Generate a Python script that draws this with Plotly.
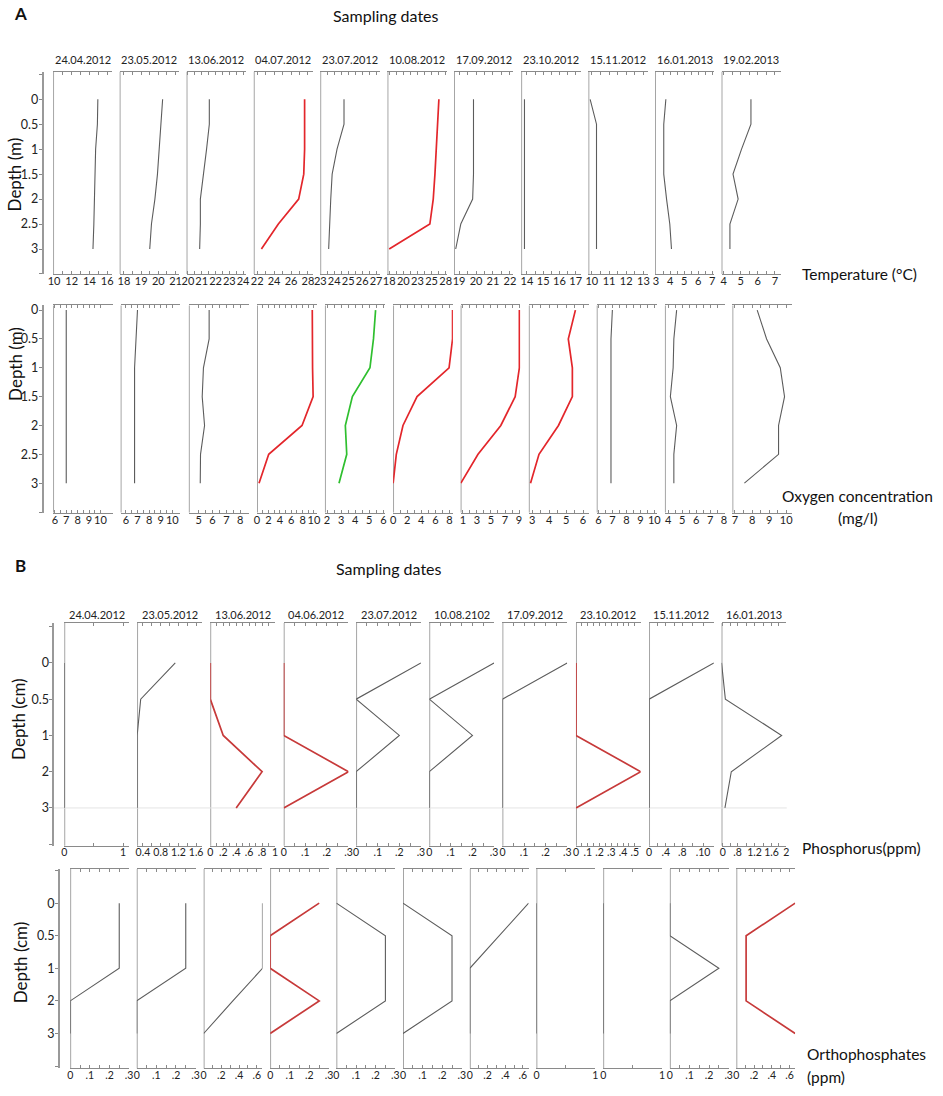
import plotly.graph_objects as go

# ---------------- data ----------------
dates_a = ['24.04.2012', '23.05.2012', '13.06.2012', '04.07.2012', '23.07.2012', '10.08.2012',
           '17.09.2012', '23.10.2012', '15.11.2012', '16.01.2013', '19.02.2013']
dates_b = ['24.04.2012', '23.05.2012', '13.06.2012', '04.06.2012', '23.07.2012', '10.08.2102',
           '17.09.2012', '23.10.2012', '15.11.2012', '16.01.2013']

depth_m = [0, 0.5, 1, 1.5, 2, 2.5, 3]
depth_cm = ['0', '0.5', '1', '2', '3']  # sediment layers, plotted evenly spaced

# water temperature (deg C) per sampling date, at depth_m
temperature = [
    [14.95, 14.9, 14.7, 14.65, 14.6, 14.5, 14.4],
    [20.25, 20.15, 20.05, 19.95, 19.8, 19.6, 19.5],
    [21.55, 21.55, 21.35, 21.1, 20.9, 20.9, 20.85],
    [27.6, 27.6, 27.6, 27.5, 26.9, 24.5, 22.5],
    [24.7, 24.7, 24.2, 23.85, 23.75, 23.7, 23.6],
    [26.8, 26.6, 26.4, 26.1, 25.8, 25.2, 18.0],
    [19.85, 19.85, 19.85, 19.85, 19.8, 19.1, 18.8],
    [13.85, 13.85, 13.85, 13.85, 13.85, 13.85, 13.85],
    [9.9, 10.27, 10.27, 10.27, 10.27, 10.27, 10.27],
    [3.7, 3.55, 3.55, 3.55, 3.75, 3.98, 4.1],
    [5.6, 5.6, 5.05, 4.55, 4.85, 4.37, 4.37],
]
temp_range = [[9.9, 16.6], [17.75, 21.2], [19.9, 24.2], [21.6, 28.6], [23.0, 27.25], [17.7, 28.2],
              [18.7, 22.2], [13.65, 17.3], [9.8, 13.25], [2.93, 7.15], [3.88, 7.35]]
temp_tickvals = [[10, 12, 14, 16], [18, 19, 20, 21], [20, 21, 22, 23, 24], [22, 24, 26, 28],
                 [23, 24, 25, 26, 27], [18, 20.5, 23, 25.5, 28], [19, 20, 21, 22], [14, 15, 16, 17],
                 [10, 11, 12, 13], [3, 4, 5, 6, 7], [4, 5, 6, 7]]
temp_ticktext = [['10', '12', '14', '16'], ['18', '19', '20', '21'], ['20', '21', '22', '23', '24'],
                 ['22', '24', '26', '28'], ['23', '24', '25', '26', '27'], ['18', '20', '23', '25', '28'],
                 ['19', '20', '21', '22'], ['14', '15', '16', '17'], ['10', '11', '12', '13'],
                 ['3', '4', '5', '6', '7'], ['4', '5', '6', '7']]

# dissolved oxygen (mg/l)
oxygen = [
    [7.0, 7.0, 7.0, 7.0, 7.0, 7.0, 7.0],
    [7.0, 6.9, 6.75, 6.75, 6.75, 6.75, 6.75],
    [5.76, 5.76, 5.35, 5.26, 5.43, 5.14, 5.12],
    [9.7, 9.7, 9.75, 9.85, 7.9, 2.05, 0.35],
    [5.45, 5.3, 5.05, 3.8, 3.3, 3.4, 2.85],
    [8.45, 8.45, 7.95, 3.4, 1.4, 0.45, 0.0],
    [9.05, 9.05, 9.05, 8.45, 6.4, 3.15, 0.7],
    [5.55, 5.13, 5.37, 5.37, 4.55, 3.4, 2.9],
    [7.0, 6.9, 6.9, 6.9, 6.9, 6.9, 6.9],
    [4.6, 4.4, 4.35, 4.15, 4.6, 4.4, 4.4],
    [8.3, 8.85, 9.65, 9.9, 9.55, 9.55, 7.55],
]
oxy_range = [[5.85, 11.1], [5.55, 10.7], [4.3, 8.6], [0, 10.5], [1.85, 6.1], [0, 8.5],
             [0.67, 9.2], [2.8, 6.33], [5.88, 10.16], [3.76, 8.05], [6.85, 10.35]]
oxy_tickvals = [[6, 7, 8, 9, 10], [6, 7, 8, 9, 10], [5, 6, 7, 8], [0, 2, 4, 6, 8, 10], [2, 3, 4, 5, 6],
                [0, 2, 4, 6, 8], [1, 3, 5, 7, 9], [3, 4, 5, 6], [6, 7, 8, 9, 10], [4, 5, 6, 7, 8],
                [7, 8, 9, 10]]
oxy_ticktext = [[str(v) for v in tv] for tv in oxy_tickvals]

# total phosphorus in sediment (ppm), at depth_cm
phosphorus = [
    [0, 0, 0, 0, 0],
    [1.13, 0.35, 0.27, 0.27, 0.27],
    [0, 0, 0.2, 0.8, 0.4],
    [0, 0, 0, 0.3, 0],
    [0.3, 0, 0.2, 0, 0],
    [0.3, 0, 0.2, 0, 0],
    [0.3, 0, 0, 0, 0],
    [0, 0, 0, 0.55, 0],
    [1.56, 0, 0, 0, 0],
    [0.42, 0.51, 1.84, 0.65, 0.5],
]
phos_range = [[0, 1.1], [0.27, 1.73], [0, 1.0], [0, 0.3], [0, 0.3], [0, 0.3], [0, 0.3],
              [0, 0.55], [0, 1.56], [0.42, 1.95]]
phos_tickvals = [[0, 1], [0.4, 0.8, 1.2, 1.6], [0, 0.2, 0.4, 0.6, 0.8, 1.0], [0, 0.1, 0.2, 0.3],
                 [0, 0.1, 0.2, 0.3], [0, 0.1, 0.2, 0.3], [0, 0.1, 0.2, 0.3],
                 [0, 0.1, 0.2, 0.3, 0.4, 0.5], [0, 0.4, 0.8, 1.3], [0.45, 0.8, 1.2, 1.6, 1.95]]
phos_ticktext = [['0', '1'], ['0.4', '0.8', '1.2', '1.6'], ['0', '.2', '.4', '.6', '.8', '1'],
                 ['0', '.1', '.2', '.3'], ['0', '.1', '.2', '.3'], ['0', '.1', '.2', '.3'],
                 ['0', '.1', '.2', '.3'], ['0', '.1', '.2', '.3', '.4', '.5'],
                 ['0', '.4', '.8', '.10'], ['0', '.8', '1.2', '1.6', '2']]

# orthophosphates (ppm)
orthophosphate = [
    [0.25, 0.25, 0.25, 0, 0],
    [0.25, 0.25, 0.25, 0, 0],
    [0.665, 0.665, 0.665, 0.33, 0],
    [0.25, 0, 0, 0.25, 0],
    [0, 0.25, 0.25, 0.25, 0],
    [0, 0.25, 0.25, 0.25, 0],
    [0.665, 0.33, 0, 0, 0],
    [0, 0, 0, 0, 0],
    [0, 0, 0, 0, 0],
    [0, 0, 0.25, 0, 0],
    [0.665, 0.11, 0.11, 0.11, 0.665],
]
ortho_range = [[0, 0.3], [0, 0.3], [0, 0.665], [0, 0.3], [0, 0.3], [0, 0.3], [0, 0.665],
               [0, 1], [0, 1], [0, 0.3], [0, 0.665]]
ortho_tickvals = [[0, 0.1, 0.2, 0.3], [0, 0.1, 0.2, 0.3], [0, 0.2, 0.4, 0.6], [0, 0.1, 0.2, 0.3],
                  [0, 0.1, 0.2, 0.3], [0, 0.1, 0.2, 0.3], [0, 0.2, 0.4, 0.6], [0, 1], [0, 1],
                  [0, 0.1, 0.2, 0.3], [0, 0.2, 0.4, 0.6]]
ortho_ticktext = [['0', '.1', '.2', '.3'], ['0', '.1', '.2', '.3'], ['0', '.2', '.4', '.6'],
                  ['0', '.1', '.2', '.3'], ['0', '.1', '.2', '.3'], ['0', '.1', '.2', '.3'],
                  ['0', '.2', '.4', '.6'], ['0', '1'], ['0', '1'], ['0', '.1', '.2', '.3'],
                  ['0', '.2', '.4', '.6']]

# ---------------- styling / layout ----------------
W, H = 943, 1096
FONT = 'Lato, Open Sans, sans-serif'
GREY_LINE = '#5c5c5c'
RED_A = '#e3262b'
RED_B = '#c73a3a'
GREEN = '#2fbf2f'


def px(x):
    return x / W


def py(y):
    return 1 - y / H


def aid(k):
    return '' if k == 1 else str(k)


rows = [
    dict(vals=temperature, y=depth_m, xr=temp_range, tv=temp_tickvals, tt=temp_ticktext,
         lefts=[47.7, 115, 182.7, 250.7, 318, 386, 453.3, 521.3, 589.3, 656.7, 724], width=60,
         top=69, bottom=271.7, yr=[-0.55, 3.5], colors={3: RED_A, 5: RED_A}, tfs=11,
         depth_x=37, dtv=[-0.5, 0, 0.5, 1, 1.5, 2, 2.5, 3, 3.5],
         dtt=['', '0', '0.5', '1', '1.5', '2', '2.5', '3', ''], dates=dates_a, date_gap=12,
         title='Depth (m)', title_xy=(9, 172)),
    dict(vals=oxygen, y=depth_m, xr=oxy_range, tv=oxy_tickvals, tt=oxy_ticktext,
         lefts=[47.7, 116, 185, 254, 322.7, 391.7, 460, 529, 597.7, 666.7, 735], width=60.5,
         top=303.3, bottom=511, yr=[-0.08, 3.51],
         colors={3: RED_A, 4: GREEN, 5: RED_A, 6: RED_A, 7: RED_A}, tfs=11,
         depth_x=37, dtv=[0, 0.5, 1, 1.5, 2, 2.5, 3, 3.5],
         dtt=['0', '0.5', '1', '1.5', '2', '2.5', '3', ''], dates=None,
         title='Depth (m)', title_xy=(9, 362)),
    dict(vals=phosphorus, y=list(range(len(depth_cm))), xr=phos_range, tv=phos_tickvals,
         tt=phos_ticktext,
         lefts=[59, 132.7, 206.7, 281, 354.3, 428.3, 502.3, 576.7, 650.7, 724], width=65.5,
         top=621.7, bottom=845, yr=[-1.1, 5.04], colors={2: RED_B, 3: RED_B, 7: RED_B}, tfs=10.5,
         depth_x=47.7, dtv=[-1, 0, 1, 2, 3, 4, 5], dtt=[''] + depth_cm + [''], dates=dates_b,
         date_gap=8.5, title='Depth (cm)', title_xy=(12, 718)),
    dict(vals=orthophosphate, y=list(range(len(depth_cm))), xr=ortho_range, tv=ortho_tickvals,
         tt=ortho_ticktext,
         lefts=[65, 132.3, 200, 267.3, 334.3, 401.7, 469.3, 536.7, 604.3, 671.7, 739], width=59.5,
         top=868.3, bottom=1068.3, yr=[-1.05, 5.07], colors={3: RED_B, 10: RED_B}, tfs=10.5,
         depth_x=53.3, dtv=[-1, 0, 1, 2, 3, 4, 5], dtt=[''] + depth_cm + [''], dates=None,
         title='Depth (cm)', title_xy=(15, 962)),
]

fig = go.Figure()
layout = {}
annotations = []
shapes = []
n_panels = sum(len(r['vals']) for r in rows)
n = 0
extra = n_panels
first_of_row = []

for r in rows:
    first = n + 1
    first_of_row.append(first)
    for i, vals in enumerate(r['vals']):
        n += 1
        left = r['lefts'][i]
        color = r['colors'].get(i, GREY_LINE)
        wid = 1.7 if i in r['colors'] else 1.1
        lo, hi = r['xr'][i]
        # left frame line of the panel, drawn at the axis minimum so zero values sit on it
        shapes.append(dict(type='line', xref=f'x{aid(n)}', yref=f'y{aid(n)} domain', x0=lo, x1=lo,
                           y0=0, y1=1, line=dict(color='#9c9c9c', width=1.8), layer='below'))
        fig.add_trace(go.Scatter(
            x=vals, y=r['y'], mode='lines', line=dict(color=color, width=wid),
            xaxis=f'x{aid(n)}', yaxis=f'y{aid(n)}', showlegend=False, hoverinfo='x+y',
            cliponaxis=False))
        tv = r['tv'][i]
        minor = [lo, hi] + [(a + b) / 2 for a, b in zip(tv[:-1], tv[1:])]
        layout[f'xaxis{aid(n)}'] = dict(
            domain=[px(left), px(left + r['width'])], anchor=f'y{aid(n)}', range=[lo, hi],
            tickmode='array', tickvals=tv, ticktext=r['tt'][i], ticks='inside', ticklen=3,
            tickcolor='#8a8a8a', showline=True, linecolor='#8a8a8a', linewidth=1,
            mirror='ticks', showgrid=False, zeroline=False, tickangle=0, ticklabelstandoff=-3,
            minor=dict(tickmode='array', tickvals=minor, ticks='inside', ticklen=3,
                       tickcolor='#8a8a8a'),
            tickfont=dict(family=FONT, size=r['tfs'], color='#222'))
        layout[f'yaxis{aid(n)}'] = dict(
            domain=[py(r['bottom']), py(r['top'])], anchor=f'x{aid(n)}', range=r['yr'][::-1],
            showline=False, showticklabels=False, ticks='', showgrid=False, zeroline=False)
        if r['dates']:
            annotations.append(dict(
                x=px(left + r['width'] / 2), y=py(r['top'] - r['date_gap']), xref='paper',
                yref='paper', xanchor='center', yanchor='middle', text=r['dates'][i],
                showarrow=False, font=dict(family=FONT, size=11, color='#222')))
    # depth axis on the left of the row
    extra += 1
    fig.add_trace(go.Scatter(x=[None], y=[None], xaxis=f'x{aid(first)}', yaxis=f'y{extra}',
                             showlegend=False, hoverinfo='skip'))
    layout[f'yaxis{extra}'] = dict(
        overlaying=f'y{aid(first)}', anchor='free', position=px(r['depth_x']), side='left',
        range=r['yr'][::-1], tickmode='array', tickvals=r['dtv'], ticktext=r['dtt'],
        ticks='outside', ticklen=3, tickcolor='#888', showline=True, linecolor='#999',
        linewidth=1.5, showgrid=False, zeroline=False, ticklabelstandoff=-2,
        tickfont=dict(family=FONT, size=12.5, color='#222'))
    tx, ty = r['title_xy']
    annotations.append(dict(x=px(tx), y=py(ty), xref='paper', yref='paper', text=r['title'],
                            xanchor='center', yanchor='middle', textangle=-90, showarrow=False,
                            font=dict(family=FONT, size=17, color='#111')))

# faint guide line at 3 cm in the phosphorus row
shapes.append(dict(type='line', xref='paper', yref=f'y{aid(first_of_row[2])}', x0=px(48),
                   x1=px(790), y0=4, y1=4, line=dict(color='#e4e4e4', width=1), layer='below'))


def label(x, y, text, size=16, bold=False, xanchor='center'):
    annotations.append(dict(x=px(x), y=py(y), xref='paper', yref='paper', showarrow=False,
                            text=f'<b>{text}</b>' if bold else text, xanchor=xanchor,
                            yanchor='middle', font=dict(family=FONT, size=size, color='#111')))


label(15, 11, 'A', 17, bold=True)
label(15, 564, 'B', 17, bold=True)
label(384, 13, 'Sampling dates', 16)
label(388, 567, 'Sampling dates', 16)
label(803, 272, 'Temperature (°C)', 15.5, xanchor='left')
label(862, 494, 'Oxygen concentration', 15.5)
label(862, 516, '(mg/l)', 15.5)
label(803, 847, 'Phosphorus(ppm)', 15.5, xanchor='left')
label(808, 1054, 'Orthophosphates', 15.5, xanchor='left')
label(808, 1077, '(ppm)', 15.5, xanchor='left')

fig.update_layout(
    width=W, height=H, margin=dict(l=0, r=0, t=0, b=0),
    paper_bgcolor='white', plot_bgcolor='white',
    annotations=annotations, shapes=shapes, showlegend=False,
    font=dict(family=FONT), **layout)

fig.write_html("out.html", config={'displayModeBar': False},
               post_script="document.body.style.margin='0';document.body.style.overflow='hidden';")
